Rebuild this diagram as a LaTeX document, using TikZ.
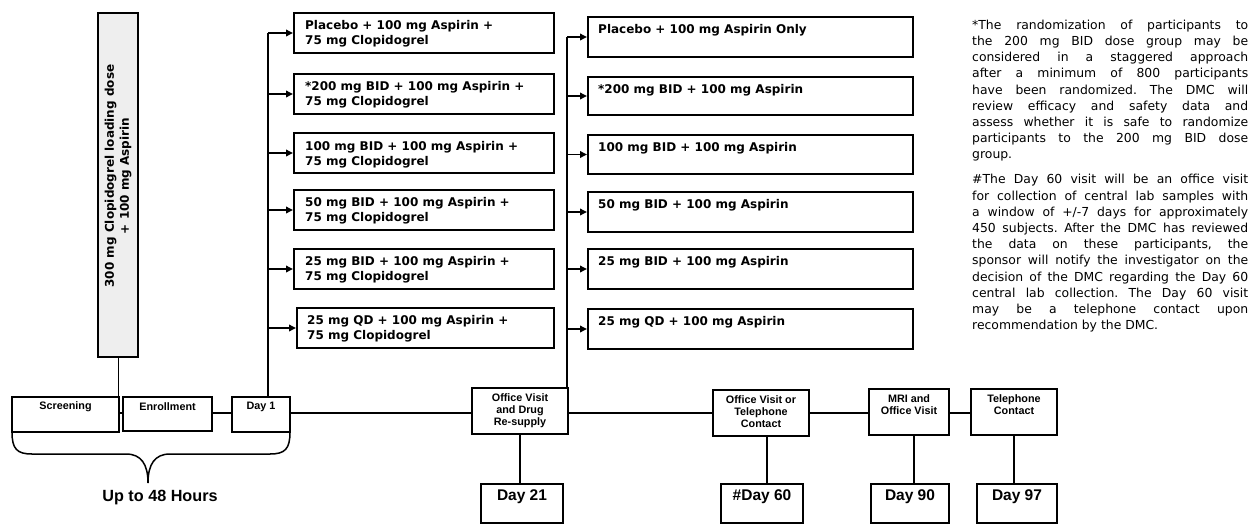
\documentclass[tikz,border=0pt]{standalone}
\usepackage{fontspec}
\setmainfont{DejaVu Sans}
\newfontfamily\verd{DejaVu Sans}
\newfontfamily\ari{Liberation Sans}
\usetikzlibrary{arrows.meta}
\frenchspacing
\definecolor{loadfill}{HTML}{EEEEEE}
\tikzset{
  box/.style={draw=black, line width=1.8pt, inner sep=0pt, outer sep=0pt},
  conn/.style={line width=1.8pt},
  thinconn/.style={line width=1pt},
  arr/.style={line width=1.8pt, -{Triangle[length=7pt,width=6.5pt]}, shorten >=1pt},
  armtext/.style={anchor=north west, inner sep=0pt, align=left, font=\verd\bfseries\fontsize{12}{15}\selectfont},
  tltext/.style={inner sep=0pt, align=center, font=\ari\bfseries\fontsize{10.8}{12}\selectfont},
  daytext/.style={inner sep=0pt, font=\ari\bfseries\fontsize{15.5}{18}\selectfont},
  notetext/.style={anchor=north west, inner sep=0pt, align=left, font=\verd\fontsize{12.4}{16.2}\selectfont},
}
% \mkbox[opts]{name}{x1}{y1}{x2}{y2}
\newcommand{\mkbox}[6][]{\node[box,#1,minimum width={#5-#3}, minimum height={#6-#4}] (#2) at ({(#3+#5)/2},{(#4+#6)/2}) {};}
\newcommand{\fl}[1]{\makebox[276pt][s]{#1}}
\begin{document}
\begin{tikzpicture}[x=1pt,y=-1pt]
\useasboundingbox (0,0) rectangle (1251,525);
\fill[white] (0,0) rectangle (1251,525);

% loading dose box
\mkbox[fill=loadfill]{load}{98}{13}{138}{357}
\node[rotate=90, inner sep=0pt, align=center, font=\verd\bfseries\fontsize{12}{15}\selectfont] (loadt) at (118,176) {300 mg Clopidogrel loading dose\\+ 100 mg Aspirin};

% timeline boxes
\mkbox{scr}{12}{397}{119}{432}
\mkbox{enr}{123}{397}{212}{431}
\mkbox{d1}{232}{397}{290}{432}
\mkbox{ov}{472}{388}{568}{434}
\mkbox{ovt}{713}{390}{809}{436}
\mkbox{mri}{869}{389}{949}{435}
\mkbox{tel}{971}{389}{1057}{435}
\node[tltext] (scrt) at (65.5,407) {Screening};
\node[tltext] (enrt) at (167.5,407) {Enrollment};
\node[tltext] (d1t) at (261,407) {Day 1};
\node[tltext] (ovtx) at (520,410.5) {Office Visit\\and Drug\\Re-supply};
\node[tltext] (ovtt) at (761,412) {Office Visit or\\Telephone\\Contact};
\node[tltext] (mrit) at (909,405) {MRI and\\Office Visit};
\node[tltext] (telt) at (1014,405) {Telephone\\Contact};

% day boxes
\mkbox{d21}{481}{484}{563}{523}
\mkbox{d60}{721}{484}{803}{523}
\mkbox{d90}{871}{484}{949}{523}
\mkbox{d97}{977}{484}{1057}{523}
\node[daytext] (d21t) at (522,497) {Day 21};
\node[daytext] (d60t) at (762,497) {\#Day 60};
\node[daytext] (d90t) at (910,497) {Day 90};
\node[daytext] (d97t) at (1017,497) {Day 97};

% left arm boxes
\mkbox{L1}{294}{13}{554}{53}
\mkbox{L2}{294}{74}{554}{114}
\mkbox{L3}{294}{133}{554}{173}
\mkbox{L4}{294}{190}{554}{230}
\mkbox{L5}{294}{249}{554}{289}
\mkbox{L6}{297}{308}{554}{348}
\node[armtext] (L1t) at (305,19) {\rule{0pt}{10pt}Placebo + 100 mg Aspirin +\\75 mg Clopidogrel};
\node[armtext] (L2t) at (305,80) {\rule{0pt}{10pt}*200 mg BID + 100 mg Aspirin +\\75 mg Clopidogrel};
\node[armtext] (L3t) at (305,140) {\rule{0pt}{10pt}100 mg BID + 100 mg Aspirin +\\75 mg Clopidogrel};
\node[armtext] (L4t) at (305,196) {\rule{0pt}{10pt}50 mg BID + 100 mg Aspirin +\\75 mg Clopidogrel};
\node[armtext] (L5t) at (305,255) {\rule{0pt}{10pt}25 mg BID + 100 mg Aspirin +\\75 mg Clopidogrel};
\node[armtext] (L6t) at (307,314) {\rule{0pt}{10pt}25 mg QD + 100 mg Aspirin +\\75 mg Clopidogrel};

% right arm boxes
\mkbox{R1}{588}{17}{913}{57}
\mkbox{R2}{588}{77}{913}{115}
\mkbox{R3}{588}{135}{913}{174}
\mkbox{R4}{588}{192}{913}{232}
\mkbox{R5}{588}{249}{913}{289}
\mkbox{R6}{588}{309}{913}{349}
\node[armtext] (R1t) at (598,23) {\rule{0pt}{10pt}Placebo + 100 mg Aspirin Only};
\node[armtext] (R2t) at (598,83) {\rule{0pt}{10pt}*200 mg BID + 100 mg Aspirin};
\node[armtext] (R3t) at (598,141) {\rule{0pt}{10pt}100 mg BID + 100 mg Aspirin};
\node[armtext] (R4t) at (598,198) {\rule{0pt}{10pt}50 mg BID + 100 mg Aspirin};
\node[armtext] (R5t) at (598,255) {\rule{0pt}{10pt}25 mg BID + 100 mg Aspirin};
\node[armtext] (R6t) at (598,315) {\rule{0pt}{10pt}25 mg QD + 100 mg Aspirin};

% trunks and arrows
\coordinate (tL) at (268,0);
\coordinate (tR) at (567,0);
\coordinate (tl) at (0,413);
\draw[conn] (tL |- L1.west) -- (tL |- d1.north);
\foreach \b in {L1,L2,L3,L4,L5,L6} {\draw[arr] (tL |- \b.west) -- (\b.west);}
\draw[conn] (tR |- R1.west) -- (tR |- ov.north);
\foreach \b in {R1,R2,R3,R4,R5,R6} {\draw[arr] (tR |- \b.west) -- (\b.west);}

% timeline connectors
\draw[thinconn] (load.south) -- (load.south |- scr.north);
\draw[conn] (scr.east |- tl) -- (enr.west |- tl);
\draw[conn] (enr.east |- tl) -- (d1.west |- tl);
\draw[conn] (d1.east |- tl) -- (ov.west |- tl);
\draw[conn] (ov.east |- tl) -- (ovt.west |- tl);
\draw[conn] (ovt.east |- tl) -- (mri.west |- tl);
\draw[conn] (mri.east |- tl) -- (tel.west |- tl);
\draw[conn] (ov.south) -- (ov.south |- d21.north);
\draw[conn] ([xshift=6pt]ovt.south) -- ([xshift=6pt]ovt.south |- d60.north);
\draw[conn] ([xshift=5pt]mri.south) -- ([xshift=5pt]mri.south |- d90.north);
\draw[conn] (tel.south) -- (tel.south |- d97.north);

% brace
\coordinate (brL) at (12,432);
\coordinate (brR) at (290,432);
\coordinate (brT) at (148,483);
\draw[line width=1.5pt] (brL) .. controls (12,449) and (17,454) .. (32,454) -- (126,454)
  .. controls (141,454) and (148,464) .. (brT)
  .. controls (148,464) and (155,454) .. (170,454) -- (270,454)
  .. controls (285,454) and (290,449) .. (brR);
\node[inner sep=0pt, font=\ari\bfseries\fontsize{16.2}{19}\selectfont] (hrs) at (160,498) {Up to 48 Hours};

% footnote
\node[notetext] (note) at (972,19) {%
\rule{0pt}{10pt}\fl{*The randomization of participants to}\\
\fl{the 200 mg BID dose group may be}\\
\fl{considered in a staggered approach}\\
\fl{after a minimum of 800 participants}\\
\fl{have been randomized. The DMC will}\\
\fl{review efficacy and safety data and}\\
\fl{assess whether it is safe to randomize}\\
\fl{participants to the 200 mg BID dose}\\
group.\\[8.8pt]
\fl{\#The Day 60 visit will be an office visit}\\
\fl{for collection of central lab samples with}\\
\fl{a window of +/-7 days for approximately}\\
\fl{450 subjects. After the DMC has reviewed}\\
\fl{the data on these participants, the}\\
\fl{sponsor will notify the investigator on the}\\
\fl{decision of the DMC regarding the Day 60}\\
\fl{central lab collection. The Day 60 visit}\\
\fl{may be a telephone contact upon}\\
recommendation by the DMC.};
\end{tikzpicture}
\end{document}
